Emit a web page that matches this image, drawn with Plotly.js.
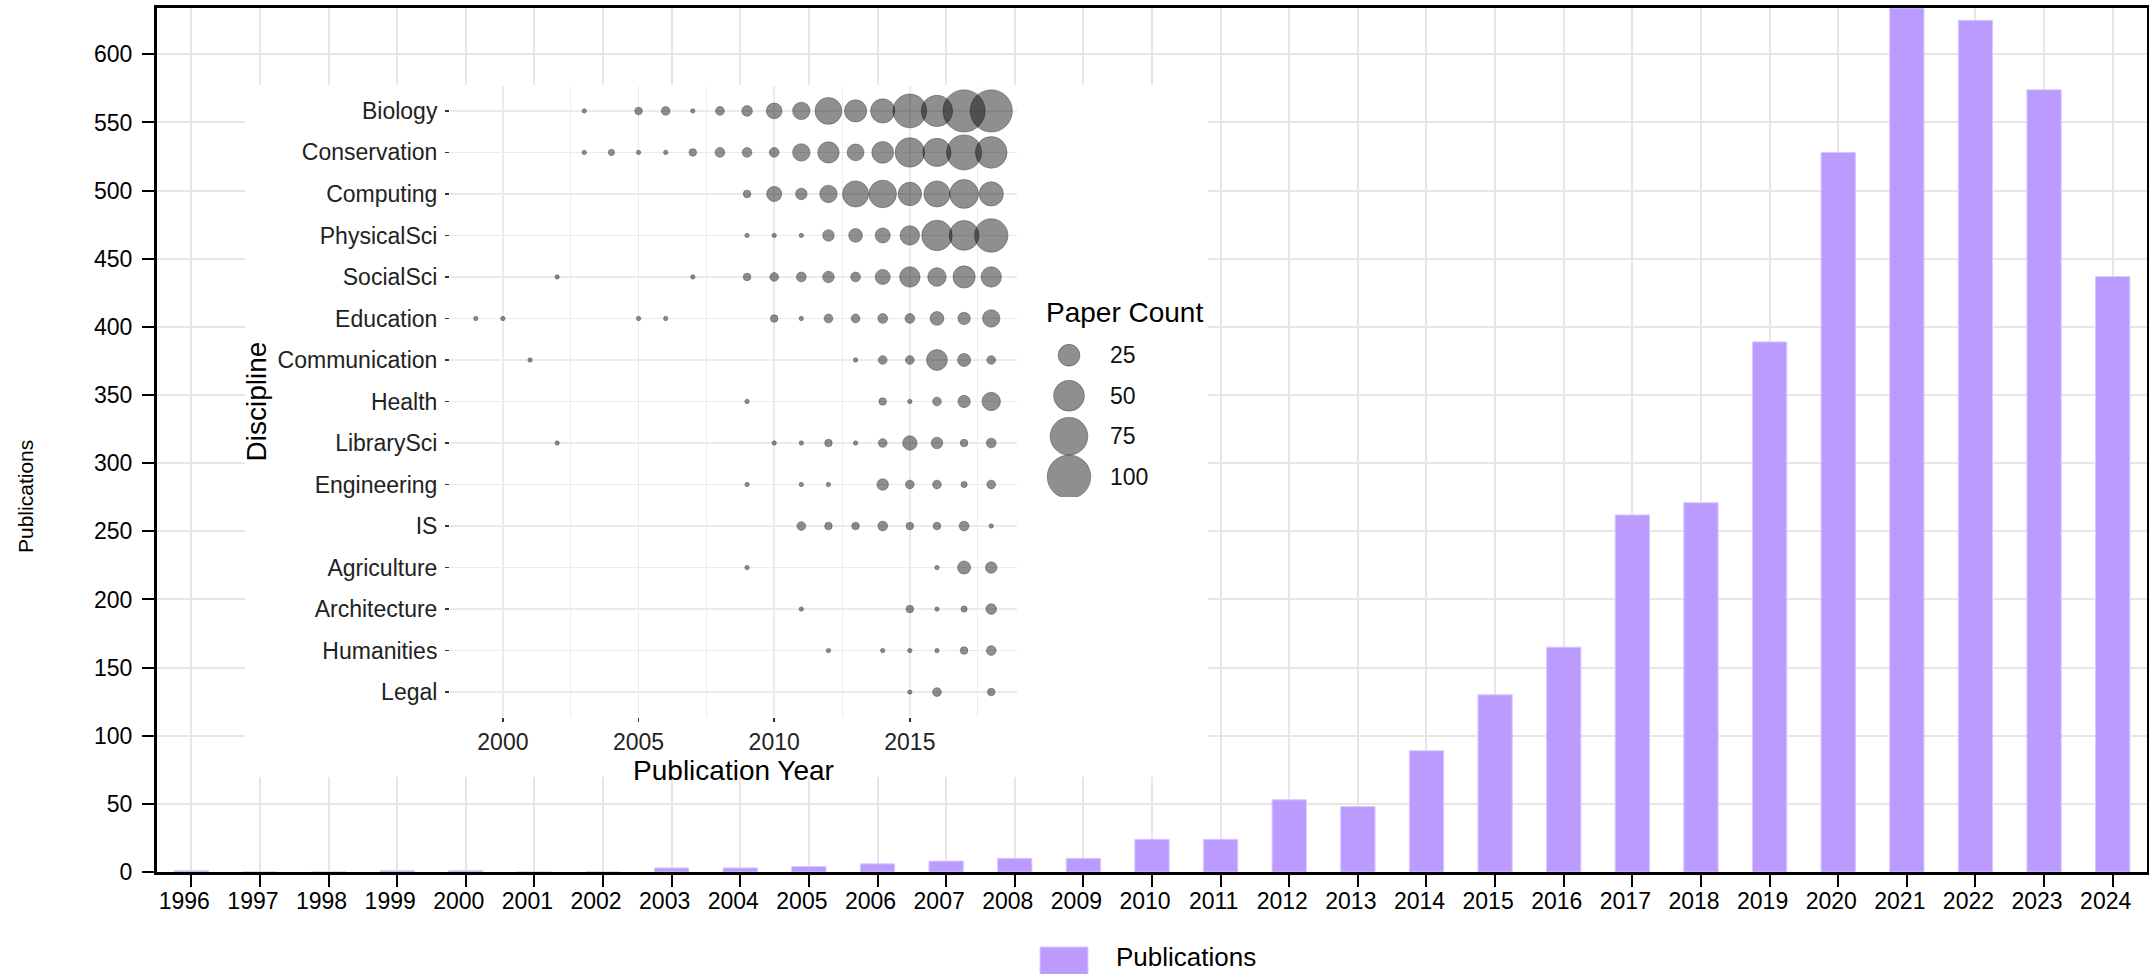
<!DOCTYPE html>
<html>
<head>
<meta charset="utf-8">
<script src="https://cdn.plot.ly/plotly-3.0.1.min.js"></script>
<style>html,body{margin:0;padding:0;background:#fff;}#chart{width:2149px;height:974px;}</style>
</head>
<body>
<div id="chart"></div>
<script>
// ---------------- data ----------------
const years = ["1996","1997","1998","1999","2000","2001","2002","2003","2004","2005","2006","2007","2008","2009","2010","2011","2012","2013","2014","2015","2016","2017","2018","2019","2020","2021","2022","2023","2024"];
const publications = [1,0,0,1,1,0,0,3,3,4,6,8,10,10,24,24,53,48,89,130,165,262,271,389,528,634,625,574,437];

// inset: paper counts per discipline, [year, count]
const disciplines = ["Biology","Conservation","Computing","PhysicalSci","SocialSci","Education","Communication","Health","LibrarySci","Engineering","IS","Agriculture","Architecture","Humanities","Legal"];
const biology       = [[2003,1],[2005,3],[2006,4],[2007,1],[2008,4],[2009,6],[2010,13],[2011,16],[2012,38],[2013,26],[2014,31],[2015,60],[2016,52],[2017,94],[2018,94]];
const conservation  = [[2003,1],[2004,2],[2005,1],[2006,1],[2007,3],[2008,5],[2009,5],[2010,5],[2011,16],[2012,24],[2013,15],[2014,25],[2015,46],[2016,42],[2017,65],[2018,53]];
const computing     = [[2009,3],[2010,12],[2011,7],[2012,16],[2013,36],[2014,40],[2015,29],[2016,36],[2017,44],[2018,31]];
const physicalSci   = [[2009,1],[2010,1],[2011,1],[2012,7],[2013,10],[2014,12],[2015,20],[2016,49],[2017,47],[2018,59]];
const socialSci     = [[2002,1],[2007,1],[2009,3],[2010,4],[2011,5],[2012,7],[2013,5],[2014,12],[2015,22],[2016,18],[2017,26],[2018,22]];
const education     = [[1999,1],[2000,1],[2005,1],[2006,1],[2010,3],[2011,1],[2012,4],[2013,4],[2014,5],[2015,5],[2016,10],[2017,8],[2018,16]];
const communication = [[2001,1],[2013,1],[2014,4],[2015,4],[2016,23],[2017,9],[2018,4]];
const health        = [[2009,1],[2014,3],[2015,1],[2016,4],[2017,8],[2018,18]];
const librarySci    = [[2002,1],[2010,1],[2011,1],[2012,3],[2013,1],[2014,4],[2015,11],[2016,7],[2017,3],[2018,5]];
const engineering   = [[2009,1],[2011,1],[2012,1],[2014,7],[2015,4],[2016,4],[2017,2],[2018,4]];
const is            = [[2011,4],[2012,3],[2013,3],[2014,5],[2015,3],[2016,3],[2017,5],[2018,1]];
const agriculture   = [[2009,1],[2016,1],[2017,9],[2018,7]];
const architecture  = [[2011,1],[2015,3],[2016,1],[2017,2],[2018,6]];
const humanities    = [[2012,1],[2014,1],[2015,1],[2016,1],[2017,3],[2018,5]];
const legal         = [[2015,1],[2016,4],[2018,3]];
const disciplineData = [biology,conservation,computing,physicalSci,socialSci,education,communication,health,librarySci,engineering,is,agriculture,architecture,humanities,legal];

const legendSizes = [25,50,75,100];
const insetYearTicks = [2000,2005,2010,2015];
const pubTicks = [0,50,100,150,200,250,300,350,400,450,500,550,600];

// ---------------- geometry ----------------
const W = 2149, H = 974;
const M = {l:157, r:2, t:8, b:102};
const PW = W - M.l - M.r, PH = H - M.t - M.b;
const fx = px => (px - M.l) / PW;
const fy = py => (H - M.b - py) / PH;

const FONT = "Liberation Sans, Arial, Helvetica, sans-serif";
const sizeRef = 2 * 100 / (43.5 * 43.5);
const bubbleColor = "rgba(0,0,0,0.62)";
const bubbleLine = "rgba(0,0,0,0.5)";

// ---------------- traces ----------------
const bx = [], by = [], bs = [];
disciplineData.forEach((rows, i) => {
  rows.forEach(r => { bx.push(r[0]); by.push(disciplines[i]); bs.push(r[1]); });
});

const traces = [
  {
    type: "bar", x: years, y: publications, name: "Publications",
    width: 0.5, showlegend: false,
    marker: {color: "#bc9bff", line: {color: "#d9c8ff", width: 1}},
    xaxis: "x", yaxis: "y"
  },
  { // white backdrop of the inset figure
    type: "scatter", x: [], y: [], xaxis: "x2", yaxis: "y2",
    showlegend: false, hoverinfo: "skip"
  },
  {
    type: "scatter", mode: "markers", x: bx, y: by, name: "Paper Count",
    xaxis: "x3", yaxis: "y3", showlegend: false,
    marker: {size: bs, sizemode: "area", sizeref: sizeRef, color: bubbleColor, line: {color: bubbleLine, width: 1}}
  },
  {
    type: "scatter", mode: "markers", x: legendSizes.map(() => 0), y: legendSizes.map(String),
    xaxis: "x4", yaxis: "y4", showlegend: false, hoverinfo: "skip",
    marker: {size: legendSizes, sizemode: "area", sizeref: sizeRef, color: bubbleColor, line: {color: bubbleLine, width: 1}}
  }
];

// ---------------- layout ----------------
const layout = {
  width: W, height: H,
  margin: {l: M.l, r: M.r, t: M.t, b: M.b, pad: 0},
  paper_bgcolor: "#ffffff", plot_bgcolor: "#ffffff",
  font: {family: FONT, color: "#000"},
  showlegend: false,
  xaxis: {
    type: "category", categoryarray: years, range: [-0.5, 28.5], domain: [0, 1],
    ticks: "outside", ticklen: 12, tickwidth: 2, tickcolor: "#000",
    showline: true, linewidth: 3, linecolor: "#000", mirror: true,
    showgrid: true, gridcolor: "#e6e6e6", gridwidth: 2,
    tickfont: {size: 23, color: "#000"}, ticklabelshift: -7, ticklabelstandoff: -6, tickangle: 0,
    fixedrange: true
  },
  yaxis: {
    range: [0, 634], tickvals: pubTicks, domain: [0, 1],
    ticks: "outside", ticklen: 12, tickwidth: 2, tickcolor: "#000",
    showline: true, linewidth: 3, linecolor: "#000", mirror: true,
    showgrid: true, gridcolor: "#e6e6e6", gridwidth: 2, zeroline: false,
    tickfont: {size: 23, color: "#000"}, ticklabelstandoff: 5,
    fixedrange: true
  },
  xaxis2: {
    domain: [fx(245), fx(1208)], anchor: "y2", range: [0, 1],
    showgrid: false, zeroline: false, showline: false, showticklabels: false, ticks: "", fixedrange: true
  },
  yaxis2: {
    domain: [fy(777), fy(85)], anchor: "x2", range: [0, 1],
    showgrid: false, zeroline: false, showline: false, showticklabels: false, ticks: "", fixedrange: true
  },
  xaxis3: {
    domain: [fx(450), fx(1017)], anchor: "y3", range: [1998.05, 2018.95],
    tickvals: insetYearTicks, ticks: "outside", ticklen: 4, tickwidth: 1.5, tickcolor: "#333",
    showgrid: true, gridcolor: "#ebebeb", gridwidth: 1.6, zeroline: false, showline: false,
    minor: {tick0: 2000, dtick: 2.5, showgrid: true, gridcolor: "#ededed", gridwidth: 1, ticks: ""},
    tickfont: {size: 23, color: "#222"}, ticklabelstandoff: 0,
    title: {text: "Publication Year", font: {size: 28, color: "#000"}, standoff: 1},
    fixedrange: true
  },
  yaxis3: {
    domain: [fy(717), fy(86)], anchor: "x3", type: "category",
    categoryarray: disciplines, range: [14.6, -0.6],
    ticks: "outside", ticklen: 4, tickwidth: 1.5, tickcolor: "#333",
    showgrid: true, gridcolor: "#ebebeb", gridwidth: 1.6, zeroline: false, showline: false,
    tickfont: {size: 23, color: "#222"}, ticklabelstandoff: 3,
    title: {text: "Discipline", font: {size: 28, color: "#000"}, standoff: 2},
    fixedrange: true
  },
  xaxis4: {
    domain: [fx(1038), fx(1100)], anchor: "y4", range: [-1, 1],
    showgrid: false, zeroline: false, showline: false, showticklabels: false, ticks: "", fixedrange: true
  },
  yaxis4: {
    domain: [fy(497), fy(335)], anchor: "x4", type: "category", side: "right",
    categoryarray: legendSizes.map(String), range: [3.5, -0.5],
    showgrid: false, zeroline: false, showline: false, ticks: "",
    tickfont: {size: 23, color: "#111"}, ticklabelstandoff: 9, fixedrange: true
  },
  annotations: [
    {text: "Publications", xref: "paper", yref: "paper", x: fx(25), y: fy(497),
     xanchor: "center", yanchor: "middle", textangle: -90, showarrow: false,
     font: {size: 21, color: "#000"}},
    {text: "Paper Count", xref: "paper", yref: "paper", x: fx(1044), y: fy(312),
     xanchor: "left", yanchor: "middle", showarrow: false,
     font: {size: 28, color: "#000"}},
    {text: "Publications", xref: "paper", yref: "paper", x: fx(1114), y: fy(957),
     xanchor: "left", yanchor: "middle", showarrow: false,
     font: {size: 26, color: "#000"}}
  ],
  shapes: [
    {type: "rect", xref: "paper", yref: "paper", x0: fx(1040), x1: fx(1088), y0: fy(995), y1: fy(947),
     fillcolor: "#bc9bff", line: {color: "#d9c8ff", width: 1}, layer: "above"}
  ]
};

Plotly.newPlot("chart", traces, layout, {staticPlot: true, displayModeBar: false});
</script>
</body>
</html>
